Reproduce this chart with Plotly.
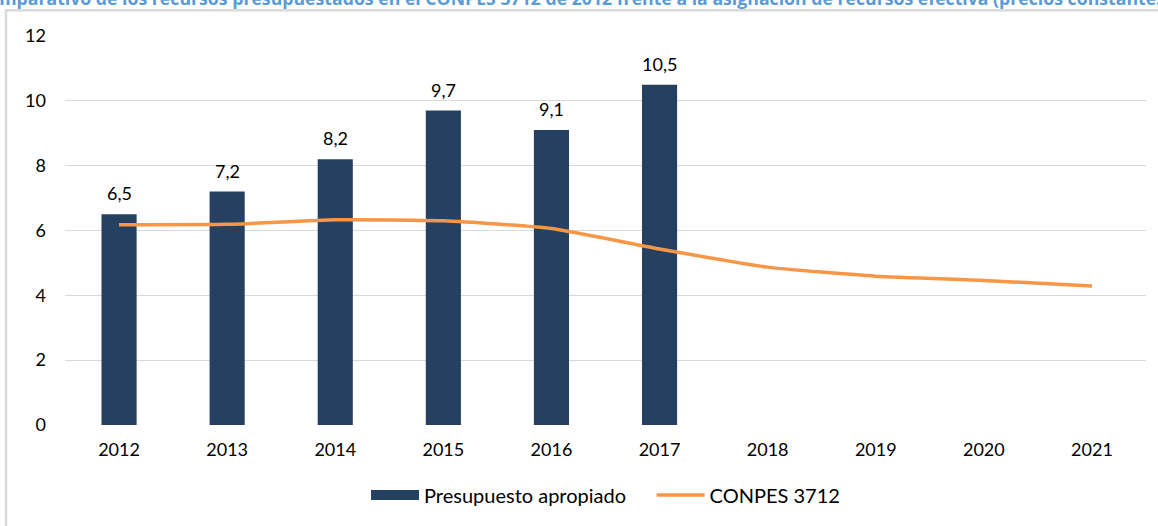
import plotly.graph_objects as go

years = ["2012", "2013", "2014", "2015", "2016", "2017", "2018", "2019", "2020", "2021"]
bar_years = ["2012", "2013", "2014", "2015", "2016", "2017"]
presupuesto = [6.5, 7.2, 8.2, 9.7, 9.1, 10.5]
conpes = [6.18, 6.19, 6.33, 6.30, 6.06, 5.43, 4.87, 4.59, 4.46, 4.29]
y_ticks = [0, 2, 4, 6, 8, 10, 12]
title_text = ("Comparativo de los recursos presupuestados en el CONPES 3712 de 2012 "
              "frente a la asignación de recursos efectiva (precios constantes de 2017)")

FONT = "Lato, 'Open Sans', sans-serif"
BAR_COLOR = "#264061"

fig = go.Figure()
fig.add_trace(go.Bar(
    x=bar_years, y=presupuesto, name="Presupuesto apropiado",
    marker=dict(color=BAR_COLOR, line=dict(width=0)),
    showlegend=False,
))
# legend-only entry to give the wide rectangular swatch
fig.add_trace(go.Scatter(
    x=[None], y=[None], name="Presupuesto apropiado&nbsp;&nbsp;&nbsp;&nbsp;", mode="lines",
    line=dict(color=BAR_COLOR, width=12), hoverinfo="skip",
))
fig.add_trace(go.Scatter(
    x=years, y=conpes, name="CONPES 3712", mode="lines",
    line=dict(color="#F79646", width=3.5, shape="spline", smoothing=0.5),
))

annotations = [dict(x=years.index(yr), y=v, xref="x", yref="y",
                    text=f"{v:.1f}".replace(".", ","),
                    showarrow=False, yanchor="bottom", yshift=8,
                    font=dict(size=18, color="#000000", family=FONT))
               for yr, v in zip(bar_years, presupuesto)]
annotations.append(dict(text="<b>" + title_text + "</b>", xref="paper", yref="paper",
                        x=0, y=1, xanchor="left", yanchor="bottom", xshift=-90, yshift=24,
                        showarrow=False,
                        font=dict(size=17.7, color="#5B9BD5", family="'Open Sans', sans-serif")))

fig.update_layout(
    width=1158, height=526,
    margin=dict(l=65, r=12, t=36, b=96),
    paper_bgcolor="white", plot_bgcolor="white",
    font=dict(family=FONT, size=18, color="#000000"),
    bargap=0.675,
    showlegend=True,
    legend=dict(orientation="h", x=0.5, xanchor="center", y=-0.18, yanchor="middle",
                font=dict(size=20, family=FONT), itemwidth=48, tracegroupgap=0),
    xaxis=dict(type="category", categoryorder="array", categoryarray=years,
               range=[-0.5, 9.5], showgrid=False, showline=False, ticks="",
               tickfont=dict(size=18), ticklabelstandoff=12),
    yaxis=dict(range=[0, 12], tickvals=y_ticks, showgrid=True, gridcolor="#d9d9d9",
               gridwidth=1.3, zeroline=False, showline=False, ticks="",
               tickfont=dict(size=18), ticklabelstandoff=18),
    shapes=[dict(type="rect", xref="paper", yref="paper",
                 x0=-0.0546, x1=1.3, y0=-0.6, y1=1.0665,
                 line=dict(color="#d9d9d9", width=2.5), fillcolor="rgba(0,0,0,0)", layer="below")],
    annotations=annotations,
)

fig.write_html("out.html", config={"displayModeBar": False},
               post_script="document.body.style.margin='0';")
